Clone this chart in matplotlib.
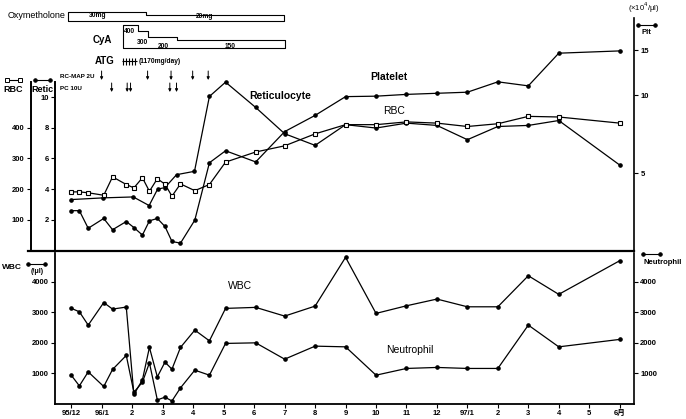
import matplotlib
matplotlib.use("Agg")
import matplotlib.pyplot as plt
from matplotlib.lines import Line2D
from matplotlib.ticker import NullLocator

plt.rcParams['font.family'] = ['Liberation Sans', 'DejaVu Sans', 'Noto Sans CJK JP']

# x positions in months, 0 = 95/12
x_dense = [0, 0.26, 0.55, 1.06, 1.35, 1.8, 2.05, 2.33, 2.56, 2.82, 3.07, 3.3,
           3.58, 4.05, 4.53, 5.06, 6.05]
x_month = [7, 8, 9, 10, 11, 12, 13, 14, 15, 16, 18]
x_blood = x_dense + x_month

rbc = [191, 191, 188, 180, 240, 215, 204, 237, 193, 234, 216, 177, 217, 195,
       215, 288, 321,
       341, 380, 410, 410, 419, 415, 404, 413, 437, 435, 415]
platelet = [3.57, 3.57, 3.05, 3.33, 3.01, 3.24, 3.07, 2.87, 3.26, 3.33, 3.10,
            2.71, 2.67, 3.28, 5.48, 6.10, 5.52,
            7.24, 8.37, 9.9, 9.94, 10.1, 10.2, 10.3, 11.3, 10.9, 14.6, 14.9]
x_retic = [0, 1.05, 2.03, 2.55, 2.83, 3.07, 3.45, 4.04, 4.53, 5.06, 6.05] + x_month
retic = [3.32, 3.43, 3.49, 2.93, 4.0, 4.1, 4.94, 5.16, 10.04, 10.97, 9.32,
         7.61, 6.85, 8.2, 7.98, 8.3, 8.15, 7.22, 8.08, 8.15, 8.47, 5.57]
wbc = [3128, 3017, 2581, 3318, 3105, 3171, 311, 789, 1851, 888, 1369, 1140,
       1851, 2417, 2067, 3128, 3161,
       2876, 3203, 4798, 2964, 3213, 3433, 3180, 3180, 4196, 3587, 4687]
neut = [933, 593, 1051, 573, 1130, 1589, 386, 714, 1346, 134, 223, 100, 527,
        1107, 943, 1982, 2001,
        1467, 1893, 1870, 943, 1163, 1196, 1163, 1163, 2581, 1870, 2113]

month_labels = ["95/12", "96/1", "2", "3", "4", "5", "6", "7", "8", "9", "10",
                "11", "12", "97/1", "2", "3", "4", "5", "6月"]

# therapy
oxy_edges = [-0.11, 2.45, 6.98]
oxy_dose = [30, 20]
cya_edges = [1.68, 2.19, 2.52, 3.45, 7.0]
cya_dose = [400, 300, 200, 150]
atg_days = [1.70, 1.80, 1.90, 2.00, 2.10]
rcmap_days = [0.99, 2.50, 3.27, 3.98, 4.49]
pc_days = [1.32, 1.83, 1.94, 3.23, 3.45]

W, H = 686, 419
XLIM = (-0.54, 18.47)


def box(l, t, r, b):
    return [l / W, 1 - b / H, (r - l) / W, (b - t) / H]


def ftext(x, y, s, size=6, ha='center', weight='bold', **kw):
    fig.text(x / W, 1 - y / H, s, fontsize=size, ha=ha, va='center',
             fontweight=weight, **kw)


def legline(x0, x1, y, marker, mfc='k'):
    fig.add_artist(Line2D([x0 / W, x1 / W], [1 - y / H, 1 - y / H], color='k',
                          lw=0.8, marker=marker, ms=2.5, mfc=mfc, mec='k',
                          mew=0.7))


fig = plt.figure(figsize=(6.86, 4.19), dpi=100)
line_kw = dict(color='k', lw=0.9, clip_on=False)
tick_kw = dict(direction='out', length=3, width=0.8, labelsize=5.5, pad=1.5)

# ---- top panel: reticulocyte / RBC / platelet
ax = fig.add_axes(box(55, 18, 634, 250.5))
ax.patch.set_visible(False)
ax.set_xlim(*XLIM)
ax.set_ylim(0, 15.15)
ax.plot(x_retic, retic, marker='o', ms=2.3, **line_kw)
for s in ('top', 'right'):
    ax.spines[s].set_visible(False)
ax.spines['left'].set_bounds(0, 11)
ax.spines['left'].set_linewidth(1.4)
ax.spines['bottom'].set_bounds(-1.43, XLIM[1])
ax.spines['bottom'].set_linewidth(1.6)
ax.set_xticks([])
ax.set_yticks([2, 4, 6, 8, 10])
ax.tick_params(axis='y', **tick_kw)
for t in ax.get_yticklabels():
    t.set_fontweight('bold')

ax_rbc = ax.twinx()
ax_rbc.set_ylim(0, 15.15 * 50)
ax_rbc.plot(x_blood, rbc, marker='s', ms=3.3, mfc='white', mew=0.8, **line_kw)
for s in ('top', 'right', 'bottom'):
    ax_rbc.spines[s].set_visible(False)
ax_rbc.spines['left'].set_visible(True)
ax_rbc.spines['left'].set_position(('axes', (31 - 55) / 579))
ax_rbc.spines['left'].set_bounds(0, 550)
ax_rbc.spines['left'].set_linewidth(1.4)
ax_rbc.yaxis.set_ticks_position('left')
ax_rbc.set_yticks([100, 200, 300, 400])
ax_rbc.tick_params(axis='y', **tick_kw)
for t in ax_rbc.get_yticklabels():
    t.set_fontweight('bold')

ax_plt = ax.twinx()
ax_plt.set_yscale('log')
ax_plt.set_ylim(2.5, 20)
ax_plt.plot(x_blood, platelet, marker='o', ms=2.3, **line_kw)
for s in ('top', 'left', 'bottom'):
    ax_plt.spines[s].set_visible(False)
ax_plt.spines['right'].set_linewidth(1.2)
ax_plt.set_yticks([5, 10, 15])
ax_plt.set_yticklabels(['5', '10', '15'], fontweight='bold')
ax_plt.yaxis.set_minor_locator(NullLocator())
ax_plt.tick_params(axis='y', **tick_kw)

# ---- therapy strip
ax_tx = fig.add_axes(box(55, 0, 634, 95))
ax_tx.set_xlim(*XLIM)
ax_tx.set_ylim(95, 0)
ax_tx.axis('off')
oxy_base, oxy_scale = 20.7, 0.29
oxy_top = [oxy_base - d * oxy_scale for d in oxy_dose]
ax_tx.fill_between(oxy_edges, oxy_top + oxy_top[-1:], oxy_base, step='post',
                   facecolor='white', edgecolor='k', lw=0.8)
cya_base, cya_scale = 48.3, 0.058
cya_top = [cya_base - d * cya_scale for d in cya_dose]
ax_tx.fill_between(cya_edges, cya_top + cya_top[-1:], cya_base, step='post',
                   facecolor='white', edgecolor='k', lw=0.8)
ax_tx.vlines(atg_days, 58, 65.5, color='k', lw=0.8)
ax_tx.hlines(61.5, atg_days[0] - 0.05, atg_days[-1] + 0.05, color='k', lw=0.8)
for d in rcmap_days:
    ax_tx.annotate('', xy=(d, 80), xytext=(d, 71),
                   arrowprops=dict(arrowstyle='-|>', lw=0.7, color='k',
                                   mutation_scale=4, shrinkA=0, shrinkB=0))
for d in pc_days:
    ax_tx.annotate('', xy=(d, 92), xytext=(d, 83),
                   arrowprops=dict(arrowstyle='-|>', lw=0.7, color='k',
                                   mutation_scale=4, shrinkA=0, shrinkB=0))

# ---- bottom panel: WBC / neutrophil
ax_w = fig.add_axes(box(55, 253, 634, 404))
ax_w.set_xlim(*XLIM)
ax_w.set_ylim(0, 4940)
ax_w.plot(x_blood, wbc, marker='o', ms=2.3, **line_kw)
ax_w.spines['top'].set_visible(False)
ax_w.spines['right'].set_visible(False)
for s in ('left', 'bottom'):
    ax_w.spines[s].set_linewidth(1.3)
ax_w.set_yticks([1000, 2000, 3000, 4000])
ax_w.set_xticks(range(len(month_labels)))
ax_w.set_xticklabels(month_labels)
ax_w.tick_params(**tick_kw)
for t in ax_w.get_xticklabels() + ax_w.get_yticklabels():
    t.set_fontweight('bold')

ax_n = ax_w.twinx()
ax_n.set_ylim(0, 4940)
ax_n.plot(x_blood, neut, marker='o', ms=2.3, **line_kw)
for s in ('top', 'left', 'bottom'):
    ax_n.spines[s].set_visible(False)
ax_n.spines['right'].set_linewidth(1.2)
ax_n.set_yticks([1000, 2000, 3000, 4000])
ax_n.tick_params(axis='y', **tick_kw)
for t in ax_n.get_yticklabels():
    t.set_fontweight('bold')

# ---- labels
ftext(37, 15, "Oxymetholone", 6.5, weight='normal')
ftext(98, 15.5, "30mg", 4.8)
ftext(205, 16.5, "20mg", 4.8)
ftext(102, 40, "CyA", 7)
ftext(129, 31.5, "400", 4.8)
ftext(142.5, 42.5, "300", 4.8)
ftext(163, 46, "200", 4.8)
ftext(230, 46, "150", 4.8)
ftext(105, 61.5, "ATG", 7)
ftext(139, 61.5, "(1170mg/day)", 4.8, ha='left')
ftext(60, 76, "RC-MAP 2U", 4.5, ha='left')
ftext(60, 88, "PC 10U", 4.5, ha='left')

legline(7, 20, 80, 's', mfc='white')
ftext(13, 89, "RBC", 6.5)
legline(35, 50, 80, 'o')
ftext(42, 89, "Retic", 6.5)
ftext(644, 8, "(×10$^4$/μl)", 5.5, weight='normal')
legline(638, 655, 25, 'o')
ftext(646, 33, "Plt", 5.5)

ftext(280, 96, "Reticulocyte", 7.5)
ftext(389, 77, "Platelet", 7.5)
ftext(394, 111, "RBC", 7.5, weight='normal')

ftext(12, 267, "WBC", 6)
legline(28, 45, 264, 'o')
ftext(37, 271.5, "(/μl)", 5)
legline(643, 660, 254, 'o')
ftext(643, 262, "Neutrophil", 5.5, ha='left')
ftext(240, 286, "WBC", 7.5, weight='normal')
ftext(410, 350, "Neutrophil", 7.5, weight='normal')

fig.savefig("out.png", dpi=100)
